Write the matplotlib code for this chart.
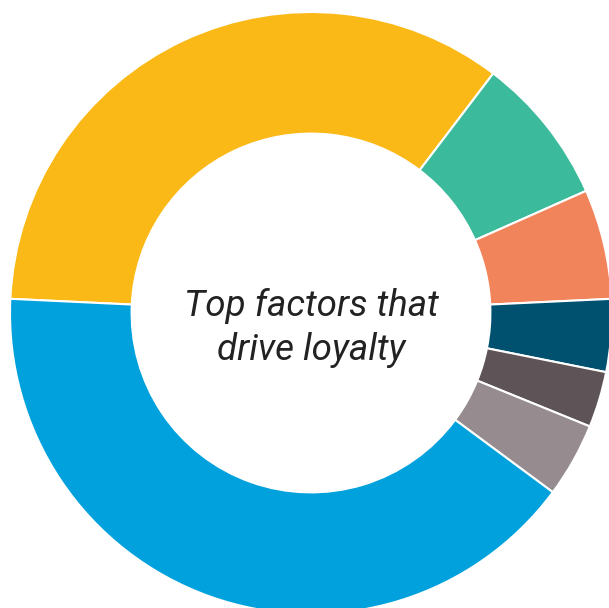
import matplotlib.pyplot as plt

# share of respondents naming each factor (%)
factors = ['Factor A', 'Factor B', 'Factor C', 'Factor D', 'Factor E', 'Factor F', 'Factor G']
shares = [34.6, 8.0, 5.9, 3.9, 3.0, 4.0, 40.6]
colors = ['#FBB917', '#3CBB9C', '#F2845C', '#00516F', '#5E5457', '#968C8F', '#00A1DC']

fig = plt.figure(figsize=(6.09, 6.08), dpi=100)
# donut runs slightly past the right and bottom edges
ax = fig.add_axes([10 / 609, -6 / 608, 602 / 609, 602 / 608])

ax.pie(shares, colors=colors, startangle=177.3, counterclock=False, radius=1.0,
       wedgeprops=dict(width=0.404, edgecolor='white', linewidth=1.5))
ax.set_xlim(-1, 1)
ax.set_ylim(-1, 1)
ax.set_aspect('equal')
ax.axis('off')

ax.text(0, -0.05, 'Top factors that\ndrive loyalty', ha='center', va='center',
        fontsize=26.5, fontstyle='italic', family='Roboto', color='#222222',
        linespacing=1.3)

fig.savefig('out.png', dpi=100)
